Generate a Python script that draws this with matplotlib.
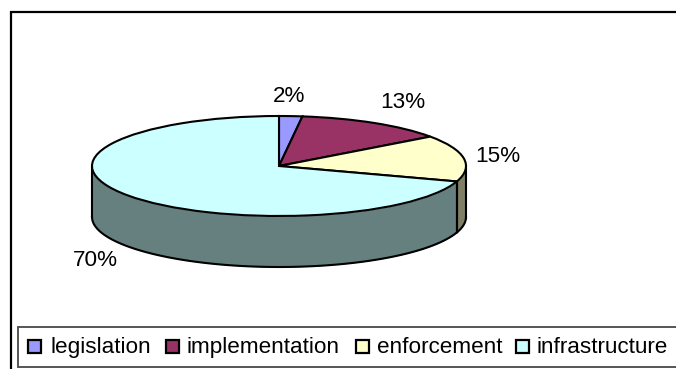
import numpy as np
import matplotlib
matplotlib.use("Agg")
import matplotlib.pyplot as plt
from matplotlib.patches import Rectangle

categories = ["legislation", "implementation", "enforcement", "infrastructure"]
values = [2, 13, 15, 70]
top_colors = ["#9999FF", "#993366", "#FFFFCC", "#CCFFFF"]
side_colors = ["#666680", "#664455", "#7F7F66", "#667F7F"]

W, H = 676, 369
CX, CY, RX, RY, DEPTH = 279, 166, 187, 50, 51

plt.rcParams["font.family"] = ["Liberation Sans", "DejaVu Sans"]

fig = plt.figure(figsize=(W / 100, H / 100), dpi=100, facecolor="white")
ax = fig.add_axes([0, 0, 1, 1])

# outer frame runs off the right and bottom of the image
fig.add_artist(Rectangle((11 / W, -0.05), 1.0, (H - 12) / H + 0.05, transform=fig.transFigure,
                         fill=False, edgecolor="black", lw=1.6))

# side wall, only the front half of the ellipse shows
edges = np.concatenate([[0], np.cumsum(values)]) * 360 / sum(values)
for i in range(len(values)):
    t1, t2 = max(edges[i], 90), min(edges[i + 1], 270)
    if t1 >= t2:
        continue
    t = np.radians(np.linspace(t1, t2, 80))
    x, y = np.sin(t), np.cos(t)
    ax.fill_between(x, y, y - DEPTH / RY, color=side_colors[i], lw=0, zorder=1)
    ax.plot(x, y - DEPTH / RY, color="black", lw=1.5, zorder=2)
    for tt in (t[0], t[-1]):
        ax.plot([np.sin(tt)] * 2, [np.cos(tt), np.cos(tt) - DEPTH / RY], color="black", lw=1.5, zorder=2)

ax.pie(values, colors=top_colors, startangle=90, counterclock=False, radius=1,
       wedgeprops={"edgecolor": "black", "linewidth": 1.5, "zorder": 3})
ax.set_aspect("auto")
ax.set_xlim(-CX / RX, (W - CX) / RX)
ax.set_ylim((CY - H) / RY, CY / RY)

label_px = [(289, 96), (403, 102), (498, 156), (95, 260)]
for v, (px, py) in zip(values, label_px):
    fig.text(px / W, 1 - py / H, f"{v}%", fontsize=16.2, ha="center", va="center", color="black")

# legend box also runs off the right edge, entries placed by hand so baselines line up
fig.add_artist(Rectangle((18 / W, 1 - 367 / H), 1.0, 40 / H, transform=fig.transFigure,
                         facecolor="white", edgecolor="#555555", lw=1.4))
swatch_x = [28, 166, 356, 516]
text_x = [50, 186, 377, 537]
for name, color, sx, tx in zip(categories, top_colors, swatch_x, text_x):
    fig.add_artist(Rectangle((sx / W, 1 - 353 / H), 13 / W, 13 / H, transform=fig.transFigure,
                             facecolor=color, edgecolor="black", lw=1.6))
    fig.text(tx / W, 1 - 353 / H, name, fontsize=16.2, ha="left", va="baseline", color="black")

fig.savefig("out.png", dpi=100)
